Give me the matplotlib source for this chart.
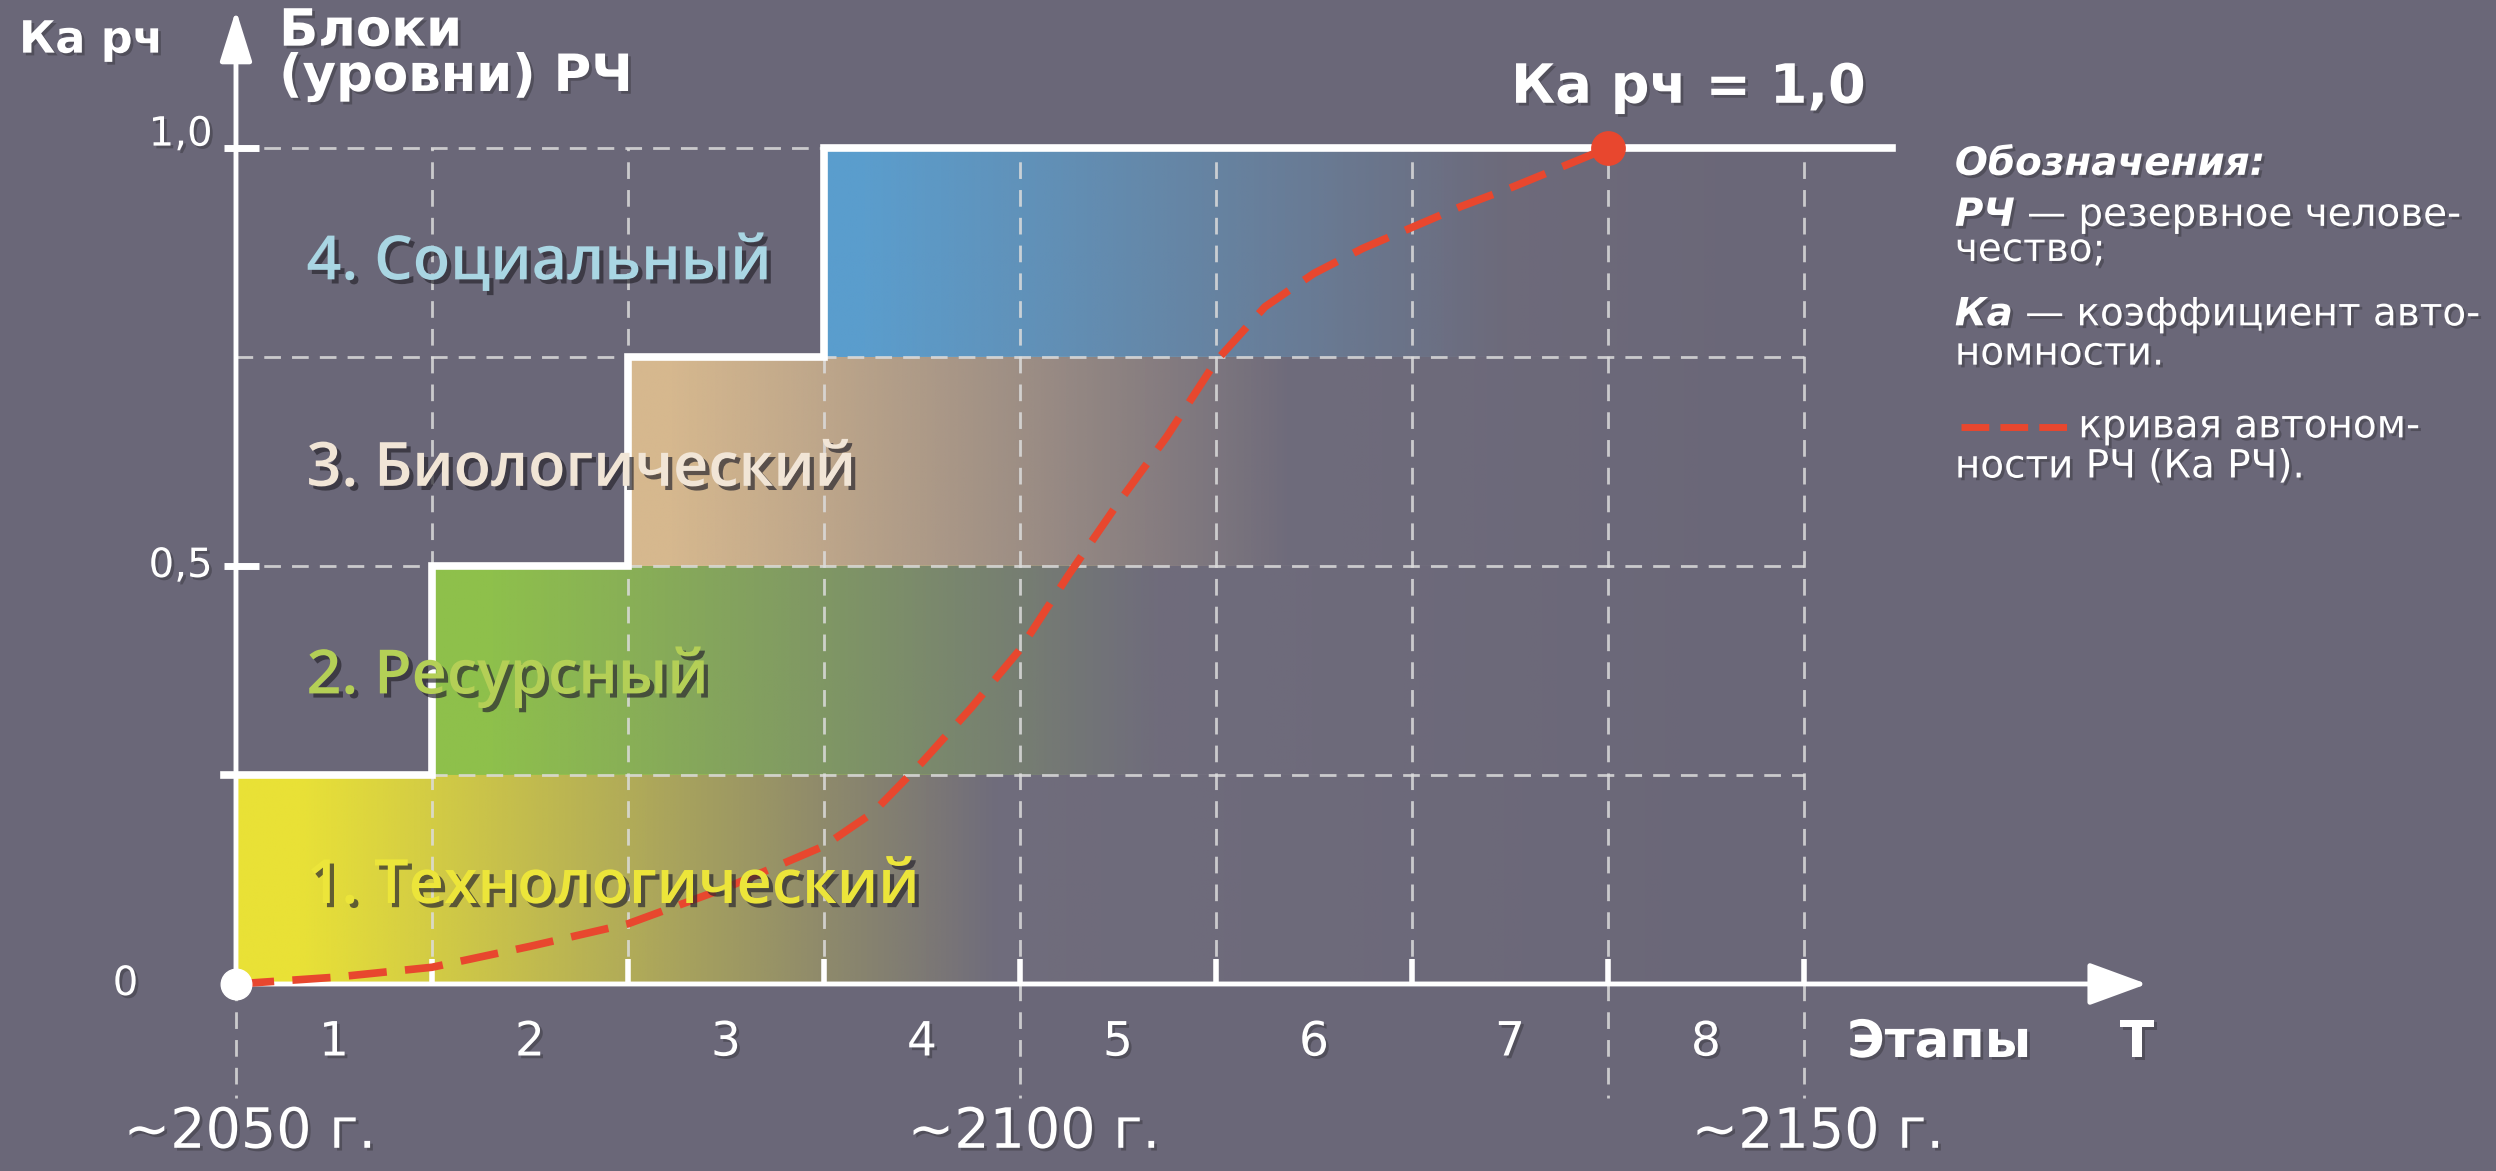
import numpy as np
import matplotlib
matplotlib.use("Agg")
import matplotlib.pyplot as plt
import matplotlib.patheffects as pe
from matplotlib.colors import to_rgb

# ---------------------------------------------------------------
#  ДАННЫЕ
# ---------------------------------------------------------------
stages = [1, 2, 3, 4, 5, 6, 7, 8]
stage_labels = ["1", "2", "3", "4", "5", "6", "7", "8"]
year_pos = [0, 4, 8]
year_labels = ["~2050 г.", "~2100 г.", "~2150 г."]
guide_x = [0, 4, 7, 8]          # пунктир ниже оси T

block_names = ["1. Технологический", "2. Ресурсный", "3. Биологический", "4. Социальный"]
block_start = [0, 1, 2, 3]
block_top = [0.25, 0.5, 0.75, 1.0]
block_colors = ["#eee634", "#8fc34a", "#dabb8f", "#5a9fd0"]
label_colors = ["#ece53a", "#b4cf56", "#f1e5d6", "#a9d6e3"]

ytick_vals = [0, 0.5, 1.0]
ytick_labels = ["0", "0,5", "1,0"]

# кривая автономности РЧ (Ка РЧ)
curve_x = [0, 0.5, 1.0, 1.5, 2.0, 2.5, 3.0, 3.25, 3.5, 3.75, 4.0, 4.25, 4.5,
           4.75, 5.0, 5.25, 5.5, 5.75, 6.0, 6.25, 6.5, 6.75, 7.0]
curve_y = [0, 0.008, 0.02, 0.045, 0.072, 0.115, 0.165, 0.205, 0.265, 0.33, 0.40,
           0.49, 0.575, 0.655, 0.745, 0.81, 0.85, 0.88, 0.905, 0.93, 0.952, 0.976, 1.0]

BG = "#6a6778"
WHITE = "#ffffff"
RED = "#e8472e"

plt.rcParams["font.family"] = "DejaVu Sans"

fig = plt.figure(figsize=(24.96, 11.71), dpi=100)
fig.patch.set_facecolor(BG)
ax = fig.add_axes([0, 0, 1, 1])
ax.set_xlim(-1.204, 11.531)
ax.set_ylim(-0.2237, 1.177)
ax.axis("off")

x_end = stages[-1]

# ── градиентные блоки ──
fades = [(0.3, 3.6), (0.3, 3.4), (0.2, 3.2), (0.2, 3.3)]
for x0, top, col, (hold, length) in zip(block_start, block_top, block_colors, fades):
    xs = np.linspace(x0, x_end, 500)
    # лёгкая серая подложка
    grey = np.zeros((1, len(xs), 4))
    grey[..., :3] = to_rgb("#8a8690")
    grey[..., 3] = np.clip(1 - (xs - x0) / (x_end - x0), 0, 1) * 0.35
    ax.imshow(grey, extent=[x0, x_end, top - 0.25, top], aspect="auto",
              interpolation="bilinear", zorder=1)
    alpha = np.clip(1 - (xs - x0 - hold) / length, 0, 1)
    rgba = np.zeros((1, len(xs), 4))
    rgba[..., :3] = to_rgb(col)
    rgba[..., 3] = alpha * 0.97
    ax.imshow(rgba, extent=[x0, x_end, top - 0.25, top], aspect="auto",
              interpolation="bilinear", zorder=1)

# ── пунктирная сетка ──
grid_kw = dict(color="#dcdcdc", lw=2, dashes=(6, 4), alpha=0.85, zorder=2)
for s in stages:
    ax.plot([s, s], [0, 1.0], **grid_kw)
for lv in block_top:
    ax.plot([0, x_end], [lv, lv], **grid_kw)
for g in guide_x:
    ax.plot([g, g], [0, -0.136], **grid_kw)

# ── ступени (блоки РЧ) ──
step_x = [-0.06] + block_start[1:] + [8.45]
step_y = block_top + [block_top[-1]]
ax.step(step_x, step_y, where="post", color=WHITE, lw=5.5, zorder=3,
        solid_joinstyle="miter")

# ── оси ──
ax.annotate("", xy=(9.75, 0), xytext=(0, 0),
            arrowprops=dict(arrowstyle="-|>,head_length=0.6,head_width=0.22",
                            lw=3.5, color=WHITE, mutation_scale=60, shrinkA=0, shrinkB=0),
            zorder=4)
ax.annotate("", xy=(0, 1.165), xytext=(0, 0),
            arrowprops=dict(arrowstyle="-|>,head_length=0.7,head_width=0.22",
                            lw=3.5, color=WHITE, mutation_scale=45, shrinkA=0, shrinkB=0),
            zorder=4)
for s in stages:
    ax.plot([s, s], [0, 0.03], color=WHITE, lw=4, zorder=4, solid_capstyle="butt")
for v in ytick_vals[1:]:
    ax.plot([-0.06, 0.12], [v, v], color=WHITE, lw=5, zorder=4, solid_capstyle="butt")

# ── кривая Ка РЧ ──
ax.plot(curve_x, curve_y, color=RED, lw=5.5, dashes=(5, 2.4), zorder=5)
ax.plot(curve_x[-1], curve_y[-1], "o", ms=24, color=RED, zorder=6)
ax.plot(curve_x[0], curve_y[0], "o", ms=22, color=WHITE, zorder=6)

# ── подписи ──
shadow = [pe.withSimplePatchShadow(offset=(3, -3), shadow_rgbFace="#2a2830", alpha=0.7)]
soft = [pe.withSimplePatchShadow(offset=(2, -2), shadow_rgbFace="#3a3840", alpha=0.5)]

ax.text(-1.107, 1.129, "Ка рч", fontsize=32, fontweight="bold", color=WHITE,
        ha="left", va="center", zorder=7, path_effects=soft)
ax.text(0.22, 1.112, "Блоки\n(уровни) РЧ", fontsize=37, fontweight="bold", color=WHITE,
        ha="left", va="center", linespacing=0.88, zorder=7, path_effects=soft)

ytick_x = [-0.564, -0.12, -0.12]
ytick_ha = ["center", "right", "right"]
ytick_dy = [0, 0, 0.016]
for v, lab, xx, ha, dy in zip(ytick_vals, ytick_labels, ytick_x, ytick_ha, ytick_dy):
    ax.text(xx, v + dy, lab, fontsize=29, color=WHITE, ha=ha, va="center",
            zorder=7, path_effects=soft)

for s, lab in zip(stages, stage_labels):
    ax.text(s - 0.5, -0.0706, lab, fontsize=34, color=WHITE, ha="center", va="center",
            zorder=7, path_effects=soft)
ax.text(8.22, -0.0706, "Этапы", fontsize=37, fontweight="bold", color=WHITE,
        ha="left", va="center", zorder=7, path_effects=soft)
ax.text(9.70, -0.0706, "Т", fontsize=37, fontweight="bold", color=WHITE,
        ha="center", va="center", zorder=7, path_effects=soft)

for xp, lab in zip(year_pos, year_labels):
    ax.text(xp + 0.07, -0.178, lab, fontsize=40, color=WHITE, ha="center", va="center",
            zorder=7, path_effects=soft)

ax.text(7.41, 1.072, f"Ка рч = {curve_y[-1]:.1f}".replace(".", ","), fontsize=39,
        fontweight="bold", color=WHITE, ha="center", va="center", zorder=7,
        path_effects=soft)

label_y = [0.116, 0.367, 0.615, 0.862]
for name, yy, col in zip(block_names, label_y, label_colors):
    ax.text(0.36, yy, name, fontsize=44, fontfamily="Open Sans", fontweight="semibold",
            color=col, ha="left", va="center", zorder=7, path_effects=shadow)

# ── обозначения ──
LX = 8.77
leg_fs = 28
ax.text(LX, 0.981, "Обозначения:", fontsize=leg_fs, fontweight="bold", fontstyle="italic",
        color=WHITE, ha="left", va="center", zorder=7, path_effects=soft)


def term_line(y, term, rest):
    t = ax.text(LX, y, term, fontsize=leg_fs, fontweight="bold", fontstyle="italic",
                color=WHITE, ha="left", va="center", zorder=7, path_effects=soft)
    ax.annotate(rest, xy=(1, 0), xycoords=t, fontsize=leg_fs, color=WHITE,
                ha="left", va="bottom", zorder=7, path_effects=soft)


term_line(0.920, "РЧ", " — резервное челове-")
ax.text(LX, 0.878, "чество;", fontsize=leg_fs, color=WHITE, ha="left", va="center",
        zorder=7, path_effects=soft)
term_line(0.801, "Ка", " — коэффициент авто-")
ax.text(LX, 0.754, "номности.", fontsize=leg_fs, color=WHITE, ha="left", va="center",
        zorder=7, path_effects=soft)
ax.plot([8.80, 9.36], [0.666, 0.666], color=RED, lw=5, dashes=(4, 1.6), zorder=7)
ax.text(9.40, 0.667, "кривая автоном-", fontsize=leg_fs, color=WHITE, ha="left",
        va="center", zorder=7, path_effects=soft)
ax.text(LX, 0.619, "ности РЧ (Ка РЧ).", fontsize=leg_fs, color=WHITE, ha="left",
        va="center", zorder=7, path_effects=soft)

fig.savefig("out.png", dpi=100, facecolor=fig.get_facecolor())
